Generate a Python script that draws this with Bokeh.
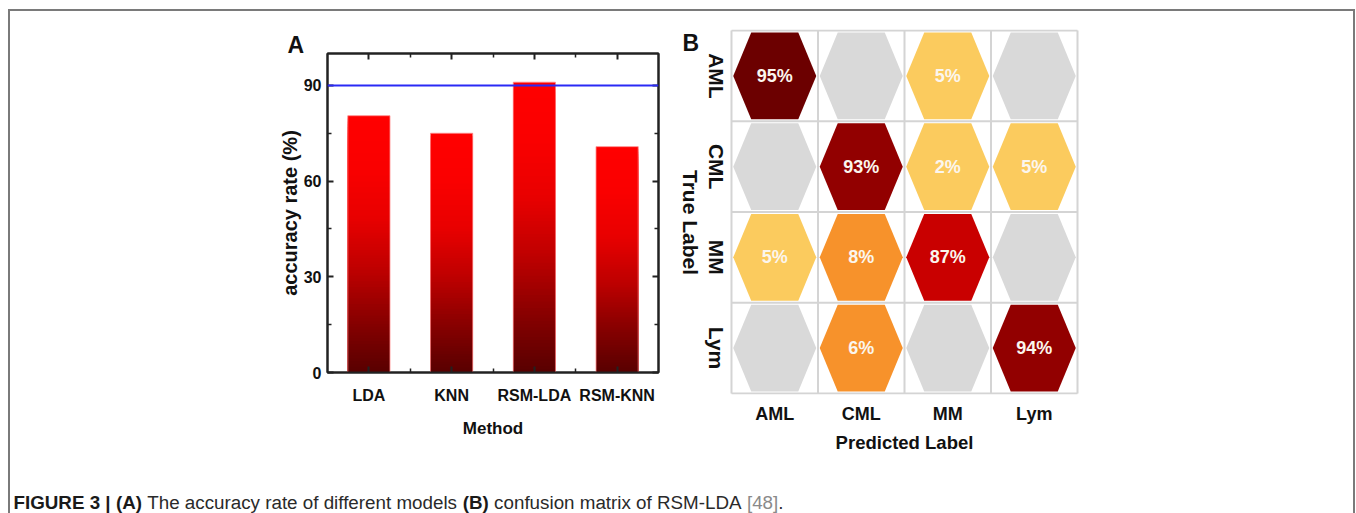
import math
import numpy as np
from bokeh.plotting import figure
from bokeh.layouts import row, column
from bokeh.models import FixedTicker, Span, Spacer, Range1d, LinearAxis, Title
from bokeh.embed import file_html
from bokeh.resources import INLINE
from bokeh.core.properties import value

# ---------------- data ----------------
methods = ["LDA", "KNN", "RSM-LDA", "RSM-KNN"]
accuracy = [80.5, 75.0, 91.0, 70.8]
reference_line = 90
acc_ticks = [0, 30, 60, 90]
acc_minor = [15, 45, 75]

classes = ["AML", "CML", "MM", "Lym"]
row_AML = [95, 0, 5, 0]
row_CML = [0, 93, 2, 5]
row_MM = [5, 8, 87, 0]
row_Lym = [0, 6, 0, 94]

FONT = "Liberation Sans"
BORDER = "#7a7a7a"
INK = "#111111"

# ---------------- panel A ----------------
pA = figure(width=660, height=459, x_range=Range1d(0.5, 4.5), y_range=Range1d(0, 100),
            output_backend="svg", toolbar_location=None, frame_align=False,
            min_border_left=317, min_border_right=12, min_border_top=42, min_border_bottom=98,
            background_fill_color="white", border_fill_color="white")
pA.xgrid.visible = False
pA.ygrid.visible = False
pA.outline_line_color = "#222222"
pA.outline_line_width = 2

xpos = list(range(1, len(methods) + 1))
N = 90
f_stops = [0.0, 0.2, 0.4, 0.6, 0.8, 1.0]
r_stops = [88, 136, 190, 232, 250, 255]
bx, bt, bc = [], [], []
for k in reversed(range(N)):
    f1 = (k + 1) / N
    r = int(round(np.interp((k + 0.5) / N, f_stops, r_stops)))
    for xi, v in zip(xpos, accuracy):
        bx.append(xi)
        bt.append(v * f1)
        bc.append("#%02x0000" % r)
pA.vbar(x=bx, bottom=0, top=bt, width=0.51, fill_color=bc, line_color=None)
pA.vbar(x=xpos, top=accuracy, width=0.51, fill_color=None, line_color="#ff8a8a", line_width=1, line_alpha=0.8)

pA.add_layout(Span(location=reference_line, dimension="width", line_color="#2a2af5", line_width=2))

xa = pA.xaxis[0]
xa.ticker = FixedTicker(ticks=xpos, minor_ticks=[1.5, 2.5, 3.5])
xa.major_label_overrides = {x: m for x, m in zip(xpos, methods)}
xa.axis_label = "Method"
ya = pA.yaxis[0]
ya.ticker = FixedTicker(ticks=acc_ticks, minor_ticks=acc_minor)
ya.axis_label = "accuracy rate (%)"

top_ax = LinearAxis(ticker=FixedTicker(ticks=xpos, minor_ticks=[1.5, 2.5, 3.5]))
top_ax.major_label_overrides = {x: "" for x in xpos}
right_ax = LinearAxis(ticker=FixedTicker(ticks=acc_ticks, minor_ticks=acc_minor))
right_ax.major_label_overrides = {t: "" for t in acc_ticks}
pA.add_layout(top_ax, "above")
pA.add_layout(right_ax, "right")

for ax in [xa, ya, top_ax, right_ax]:
    ax.major_tick_in = 6
    ax.major_tick_out = 0
    ax.minor_tick_in = 4
    ax.minor_tick_out = 0
    ax.axis_line_color = "#222222"
    ax.axis_line_width = 2
    ax.major_tick_line_color = "#222222"
    ax.major_tick_line_width = 2
    ax.minor_tick_line_color = "#222222"
    ax.minor_tick_line_width = 1.5
    ax.major_label_text_font = FONT
    ax.major_label_text_font_style = "bold"
    ax.major_label_text_font_size = "16px"
    ax.major_label_text_color = INK
    ax.axis_label_text_font = FONT
    ax.axis_label_text_font_style = "bold"
    ax.axis_label_text_color = INK
for ax in [top_ax, right_ax]:
    ax.major_label_standoff = 0
xa.major_label_standoff = 14
xa.axis_label_standoff = 12
xa.axis_label_text_font_size = "17px"
ya.major_label_standoff = 6
ya.axis_label_standoff = 0
ya.axis_label_text_font_size = "20px"

pA.title = Title(text="A", align="left", offset=-40, standoff=-9, text_font=FONT,
                 text_font_style="bold", text_font_size="23px", text_color=INK)

# ---------------- panel B ----------------
pB = figure(width=683, height=459, x_range=Range1d(-0.6127, 4.6127), y_range=Range1d(-0.012, 4.012),
            output_backend="svg", toolbar_location=None, frame_align=False, y_axis_type=None,
            min_border_left=8, min_border_right=223, min_border_top=18, min_border_bottom=76,
            background_fill_color="white", border_fill_color="white")
pB.grid.visible = False
pB.outline_line_color = None

matrix = [row_AML, row_CML, row_MM, row_Lym]
n = len(classes)


def cell_color(v):
    if v == 0:
        return "#d9d9d9"
    if v <= 5:
        return "#fbcb5e"
    if v <= 10:
        return "#f7922b"
    if v < 90:
        return "#c90000"
    if v < 95:
        return "#920000"
    return "#6c0000"


# cell grid lines
pB.segment(x0=[0] * (n + 1), x1=[n] * (n + 1), y0=list(range(n + 1)), y1=list(range(n + 1)),
           line_color="#d4d4d4", line_width=2)
pB.segment(x0=list(range(n + 1)), x1=list(range(n + 1)), y0=[0] * (n + 1), y1=[n] * (n + 1),
           line_color="#d4d4d4", line_width=2)

hx = [-0.48, -0.272, 0.272, 0.48, 0.272, -0.272]
hy = [0.0, 0.478, 0.478, 0.0, -0.478, -0.478]
pxs, pys, pcol, tx, ty, tt = [], [], [], [], [], []
for ri, vals in enumerate(matrix):
    for ci, v in enumerate(vals):
        cx = ci + 0.5
        cy = n - ri - 0.5
        pxs.append([cx + d for d in hx])
        pys.append([cy + d for d in hy])
        pcol.append(cell_color(v))
        if v > 0:
            tx.append(cx)
            ty.append(cy)
            tt.append(f"{v}%")
pB.patches(xs=pxs, ys=pys, fill_color=pcol, line_color=None)
pB.text(x=tx, y=ty, text=tt, text_align="center", text_baseline="middle",
        text_font=value(FONT), text_font_style="bold", text_font_size="18px", text_color="#fbf6ee")

centers = [i + 0.5 for i in range(n)]
# row labels (true classes), rotated, left of the grid
pB.text(x=[-0.173] * n, y=centers[::-1], text=classes, angle=-math.pi / 2,
        text_align="center", text_baseline="middle", text_font=value(FONT),
        text_font_style="bold", text_font_size="21px", text_color=INK)
pB.text(x=[-0.474], y=[1.884], text=["True Label"], angle=-math.pi / 2,
        text_align="center", text_baseline="middle", text_font=value(FONT),
        text_font_style="bold", text_font_size="21px", text_color=INK)
pB.text(x=[-0.566], y=[3.86], text=["B"], text_align="left", text_baseline="middle",
        text_font=value(FONT), text_font_style="bold", text_font_size="23px", text_color=INK)

bx_ax = pB.xaxis[0]
bx_ax.ticker = FixedTicker(ticks=centers)
bx_ax.major_label_overrides = {c: k for c, k in zip(centers, classes)}
bx_ax.axis_label = "Predicted Label"
bx_ax.axis_line_color = None
bx_ax.major_tick_line_color = None
bx_ax.minor_tick_line_color = None
bx_ax.major_label_text_font = FONT
bx_ax.major_label_text_font_style = "bold"
bx_ax.major_label_text_color = INK
bx_ax.axis_label_text_font = FONT
bx_ax.axis_label_text_font_style = "bold"
bx_ax.axis_label_text_color = INK
bx_ax.major_label_text_font_size = "18px"
bx_ax.major_label_standoff = 3
bx_ax.axis_label_text_font_size = "18.5px"
bx_ax.axis_label_standoff = 5

# ---------------- caption ----------------
cap_segments = ["FIGURE 3 |", "(A)", "The accuracy rate of different models", "(B)",
                "confusion matrix of RSM-LDA", "[48]", "."]
cap_bold = [True, True, False, True, False, False, False]
cap_color = ["#1a1a1a", "#1a1a1a", "#2a2a2a", "#1a1a1a", "#2a2a2a", "#8a8a8a", "#2a2a2a"]
cap_space_after = [True, True, True, True, True, False, False]

W_REG = {' ': 278, 'T': 611, 'h': 556, 'e': 556, 'a': 556, 'c': 500, 'u': 556, 'r': 333, 'y': 500,
         't': 278, 'o': 556, 'f': 278, 'd': 556, 'i': 222, 'n': 556, 'm': 833, 'l': 222, 's': 500,
         'x': 500, 'R': 722, 'S': 667, 'M': 833, '-': 333, 'L': 556, 'D': 722, 'A': 667, '[': 278,
         ']': 278, '4': 556, '8': 556, '.': 278}
W_BOLD = {'F': 611, 'I': 278, 'G': 778, 'U': 722, 'R': 722, 'E': 667, ' ': 278, '3': 556, '|': 280,
          '(': 333, ')': 333, 'A': 722, 'B': 722}
FS = 18.8

pC = figure(width=1343, height=43, x_range=Range1d(0, 1343), y_range=Range1d(0, 43),
            output_backend="svg", toolbar_location=None, x_axis_type=None, y_axis_type=None,
            frame_align=False, min_border=0, min_border_left=0, min_border_right=0,
            min_border_top=0, min_border_bottom=0,
            background_fill_color="white", border_fill_color="white")
pC.grid.visible = False
pC.outline_line_color = None

xc = 3.0
for seg, b, col, sp in zip(cap_segments, cap_bold, cap_color, cap_space_after):
    tbl = W_BOLD if b else W_REG
    pC.text(x=[xc], y=[11], text=[seg], text_font=value(FONT), text_font_style="bold" if b else "normal",
            text_font_size=f"{FS}px", text_color=col, text_baseline="alphabetic", text_align="left")
    w = sum(tbl.get(ch, 556) for ch in seg) / 1000 * FS
    xc += w + (0.278 * FS if sp else 0)

# ---------------- layout with frame border ----------------
bg = {"background-color": BORDER}
content = column(row(pA, pB), pC)
mid = row(Spacer(width=8, height=502), Spacer(width=2, height=502, styles=bg), content,
          Spacer(width=2, height=502, styles=bg), Spacer(width=1, height=502))
layout = column(Spacer(width=1356, height=9),
                row(Spacer(width=8, height=2), Spacer(width=1347, height=2, styles=bg), Spacer(width=1, height=2)),
                mid)

open("out.html", "w").write(file_html(layout, INLINE))
